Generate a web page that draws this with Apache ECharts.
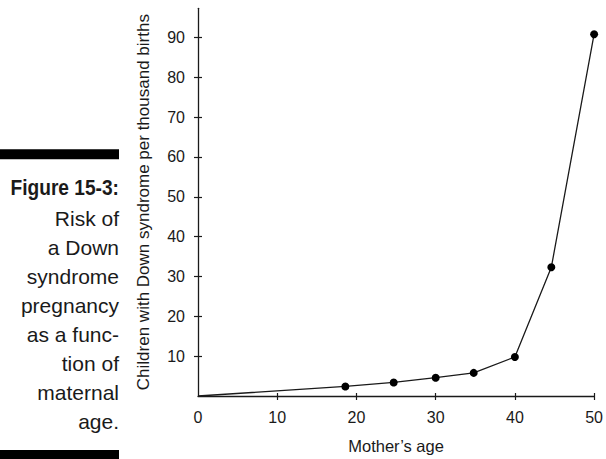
<!DOCTYPE html>
<html>
<head>
<meta charset="utf-8">
<script src="https://cdn.jsdelivr.net/npm/echarts@6/dist/echarts.min.js"></script>
<style>
html,body{margin:0;padding:0;background:#fff;}
#c{width:606px;height:459px;}
</style>
</head>
<body>
<div id="c"></div>
<script>
// ---- data ----
const ages = [0, 18.6, 24.7, 30, 34.8, 40, 44.6, 50];
const rates = [0, 2.4, 3.4, 4.6, 5.8, 9.8, 32.3, 90.8];
const xTickValues = [0, 10, 20, 30, 40, 50];
const yTickValues = [10, 20, 30, 40, 50, 60, 70, 80, 90];
const xAxisName = "Mother\u2019s age";
const yAxisName = "Children with Down syndrome per thousand births";
const captionTitle = "Figure 15-3:";
const captionLines = ["Risk of", "a Down", "syndrome", "pregnancy", "as a func-", "tion of", "maternal", "age."];

// ---- chart ----
const ink = '#1a1a1a';
const chart = echarts.init(document.getElementById('c'), null, {renderer: 'svg'});

const graphics = [
  {type: 'rect', shape: {x: 0, y: 149.3, width: 119, height: 10}, style: {fill: '#000'}},
  {type: 'rect', shape: {x: 0, y: 450, width: 119, height: 10}, style: {fill: '#000'}},
  {type: 'text', x: 119, y: 195 - 0.35 * 22, scaleX: 0.87,
    style: {text: captionTitle, fill: ink, font: 'bold 22px "Liberation Sans", Arial, sans-serif', align: 'right', verticalAlign: 'middle'}}
];
captionLines.forEach((t, i) => {
  graphics.push({type: 'text', x: 119, y: 226 + i * 29.04 - 0.35 * 21,
    style: {text: t, fill: ink, font: '21px "Liberation Sans", Arial, sans-serif', align: 'right', verticalAlign: 'middle'}});
});

const baseX = {type: 'value', min: 0, max: 50, interval: 10};
const baseY = {type: 'value', min: 0, max: 97.3};
const labelFont = {color: ink, fontFamily: '"Liberation Sans", Arial, sans-serif', fontSize: 16};

chart.setOption({
  animation: false,
  backgroundColor: '#fff',
  grid: {left: 198, right: 8, top: 8.3, bottom: 58.5, containLabel: false},
  xAxis: [
    Object.assign({}, baseX, {
      position: 'bottom',
      name: xAxisName, nameLocation: 'middle', nameGap: 41,
      nameTextStyle: {color: ink, fontFamily: '"Liberation Sans", Arial, sans-serif', fontSize: 16.5},
      axisLine: {show: true, lineStyle: {color: ink, width: 1.3}},
      axisTick: {show: true, inside: false, length: 4, lineStyle: {color: ink, width: 1.2}, customValues: xTickValues.slice(1)},
      axisLabel: Object.assign({margin: 13, customValues: xTickValues}, labelFont),
      splitLine: {show: false}
    }),
    Object.assign({}, baseX, {
      position: 'bottom',
      axisLine: {show: false},
      axisTick: {show: true, inside: true, length: 3, lineStyle: {color: ink, width: 1.2}, customValues: xTickValues.slice(1)},
      axisLabel: {show: false},
      splitLine: {show: false}
    })
  ],
  yAxis: [
    Object.assign({}, baseY, {
      position: 'left',
      name: yAxisName, nameLocation: 'middle', nameGap: 46,
      nameTextStyle: {color: ink, fontFamily: '"Liberation Sans", Arial, sans-serif', fontSize: 17},
      axisLine: {show: true, lineStyle: {color: ink, width: 1.3}},
      axisTick: {show: true, inside: false, length: 4, lineStyle: {color: ink, width: 1.2}, customValues: yTickValues},
      axisLabel: Object.assign({margin: 13, customValues: yTickValues}, labelFont),
      splitLine: {show: false}
    }),
    Object.assign({}, baseY, {
      position: 'left',
      axisLine: {show: false},
      axisTick: {show: true, inside: true, length: 4, lineStyle: {color: ink, width: 1.2}, customValues: yTickValues},
      axisLabel: {show: false},
      splitLine: {show: false}
    })
  ],
  graphic: graphics,
  series: [{
    type: 'line',
    xAxisIndex: 0, yAxisIndex: 0,
    data: ages.map((a, i) => ({value: [a, rates[i]], symbol: i === 0 ? 'none' : 'circle'})),
    symbolSize: 8,
    showAllSymbol: true,
    lineStyle: {color: ink, width: 1.3},
    itemStyle: {color: '#000', borderWidth: 0},
    z: 5
  }]
});
</script>
</body>
</html>
